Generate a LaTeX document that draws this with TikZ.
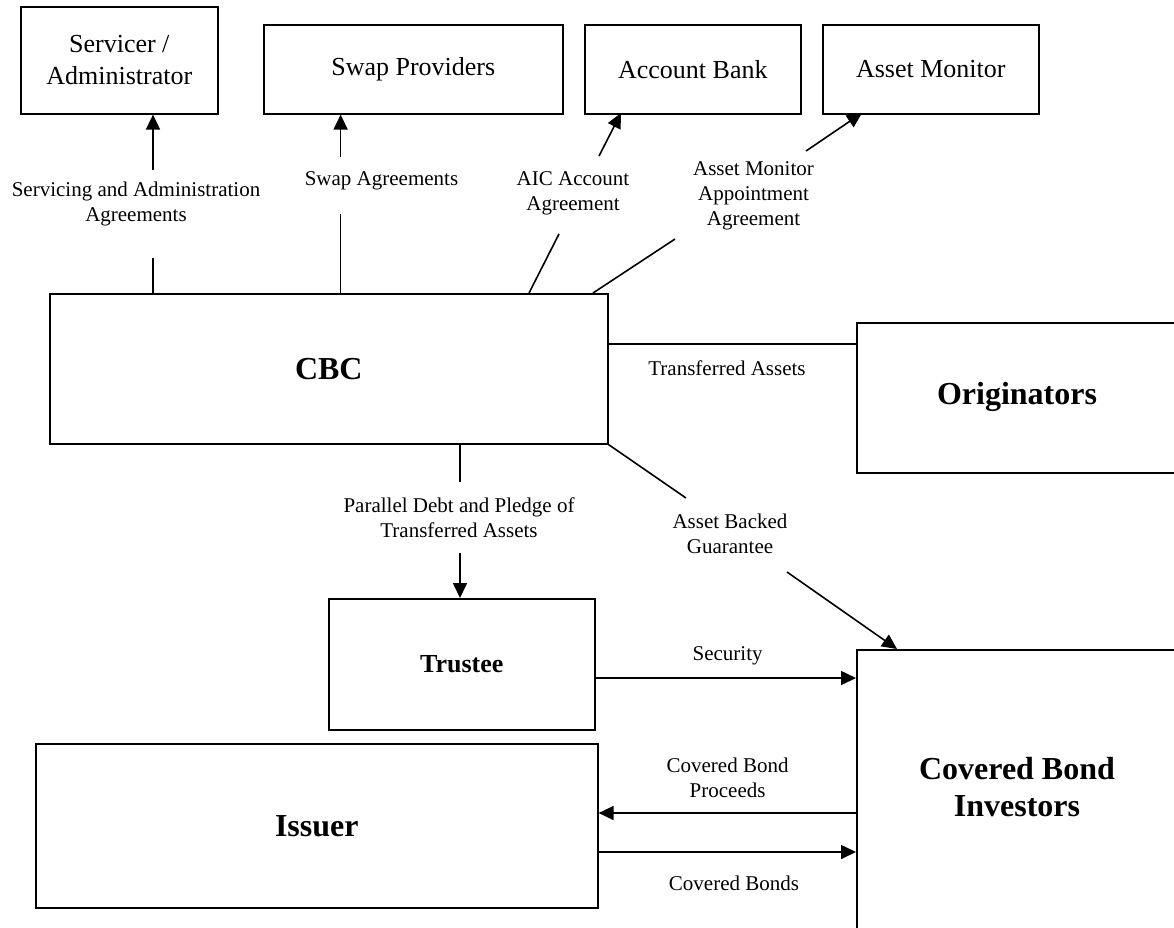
\documentclass[tikz,border=0pt]{standalone}
\usepackage{fontspec}
\setmainfont{Liberation Serif}
\usetikzlibrary{arrows.meta}
\tikzset{
  box/.style={draw, line width=1.6pt, inner sep=0pt, anchor=north west, align=center},
  boxtxt/.style={font=\fontsize{26}{32}\selectfont},
  bigtxt/.style={font=\fontsize{32}{37}\selectfont\bfseries},
  midtxt/.style={font=\fontsize{26}{32}\selectfont\bfseries},
  lbl/.style={font=\fontsize{21}{25}\selectfont, align=center, inner sep=0pt},
  conn/.style={line width=1.6pt},
  arr/.style={line width=1.6pt, -{Triangle[length=15pt,width=14pt]}}
}
\begin{document}
\begin{tikzpicture}[x=1pt,y=-1pt]
\useasboundingbox (0,0) rectangle (1174,927);
% boxes
\node[box, boxtxt, minimum width=197pt, minimum height=107pt] (serv) at (20,6) {Servicer /\\Administrator};
\node[box, boxtxt, minimum width=299pt, minimum height=89pt] (swap) at (263,24) {Swap Providers};
\node[box, boxtxt, minimum width=216pt, minimum height=89pt] (bank) at (584,24) {Account Bank};
\node[box, boxtxt, minimum width=216pt, minimum height=89pt] (mon) at (822,24) {Asset Monitor};
\node[box, bigtxt, minimum width=558pt, minimum height=150pt] (cbc) at (49,293) {CBC};
\node[box, minimum width=330pt, minimum height=150pt] (orig) at (856,322) {};
\node[bigtxt] (origt) at (1017,397) {Originators};
\node[box, midtxt, minimum width=266pt, minimum height=131pt] (trustee) at (328,598) {Trustee};
\node[box, bigtxt, minimum width=562pt, minimum height=164pt] (issuer) at (35,743) {Issuer};
\node[box, minimum width=330pt, minimum height=279pt] (cbi) at (856,649) {};
\node[bigtxt, align=center] (cbit) at (1017,787) {Covered Bond\\Investors};
% labels
\node[lbl] (l1) at (136,204) {Servicing and Administration\\Agreements};
\node[lbl] (l2) at (381.5,181) {Swap Agreements};
\node[lbl] (l3) at (573,193.5) {AIC Account\\Agreement};
\node[lbl] (l4) at (753.5,196) {Asset Monitor\\Appointment\\Agreement};
\node[lbl] (l5) at (727,368) {Transferred Assets};
\node[lbl] (l6) at (459,518) {Parallel Debt and Pledge of\\Transferred Assets};
\node[lbl] (l7) at (730,533.5) {Asset Backed\\Guarantee};
\node[lbl] (l8) at (727.6,656) {Security};
\node[lbl] (l9) at (727.6,777.5) {Covered Bond\\Proceeds};
\node[lbl] (l10) at (734,883) {Covered Bonds};
% connector break points
\coordinate (s1a) at (153,258);
\coordinate (s1b) at (153,170);
\coordinate (s2a) at (340.6,214);
\coordinate (s2b) at (340.6,157);
\coordinate (s3o) at (529,293);
\coordinate (s3a) at (559,234);
\coordinate (s3b) at (599,156);
\coordinate (s3t) at (621,113);
\coordinate (s4o) at (593,293);
\coordinate (s4a) at (675,239);
\coordinate (s4b) at (806,151);
\coordinate (s4t) at (862,113);
\coordinate (s6a) at (460,482);
\coordinate (s6b) at (460,553);
\coordinate (s7a) at (686,498);
\coordinate (s7b) at (787,572);
\coordinate (s7t) at (897,649);
% connectors
\draw[conn] (cbc.north -| s1a) -- (s1a);
\draw[arr] (s1b) -- (serv.south -| s1b);
\draw[conn] (cbc.north -| s2a) -- (s2a);
\draw[arr] (s2b) -- (swap.south -| s2b);
\draw[conn] (s3o) -- (s3a);
\draw[arr] (s3b) -- (s3t);
\draw[conn] (s4o) -- (s4a);
\draw[arr] (s4b) -- (s4t);
\draw[conn] (cbc.east |- 0,344) -- (orig.west |- 0,344);
\draw[conn] (cbc.south -| s6a) -- (s6a);
\draw[arr] (s6b) -- (trustee.north -| s6b);
\draw[conn] (cbc.south east) -- (s7a);
\draw[arr] (s7b) -- (s7t);
\draw[arr] (trustee.east |- 0,678) -- (cbi.west |- 0,678);
\draw[arr] (cbi.west |- 0,813) -- (issuer.east |- 0,813);
\draw[arr] (issuer.east |- 0,852) -- (cbi.west |- 0,852);
\end{tikzpicture}
\end{document}
